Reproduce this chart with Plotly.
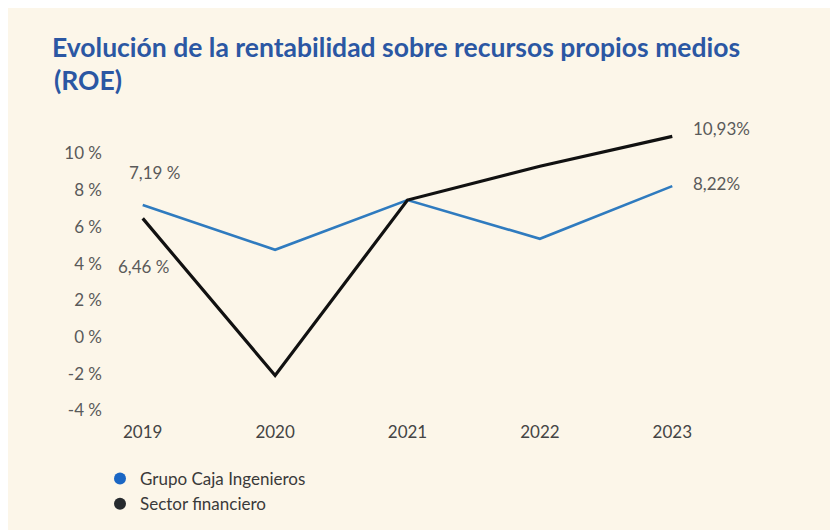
import plotly.graph_objects as go

years = ["2019", "2020", "2021", "2022", "2023"]
caja_ingenieros = [7.19, 4.75, 7.46, 5.35, 8.22]
sector_financiero = [6.46, -2.10, 7.46, 9.30, 10.93]
y_ticks = [-4, -2, 0, 2, 4, 6, 8, 10]
y_tick_labels = ["-4 %", "-2 %", "0 %", "2 %", "4 %", "6 %", "8 %", "10 %"]
series_names = ["Grupo Caja Ingenieros", "Sector financiero"]
title_line1 = "Evolución de la rentabilidad sobre recursos propios medios"
title_line2 = "(ROE)"

BLUE_LINE = "#2f7bbf"
BLACK_LINE = "#111111"
BLUE_DOT = "#1a66c4"
BLACK_DOT = "#262a2e"
TITLE_BLUE = "#2b57a3"
BG = "#fcf6e9"
FONT = "Lato, 'Open Sans', sans-serif"
GREY = "#5a5a5a"

W, H = 838, 530
ML, MR, MT, MB = 95, 134, 112, 123
PW, PH = W - ML - MR, H - MT - MB


def px_x(x):  # figure pixel -> paper x
    return (x - ML) / PW


def px_y(y):  # figure pixel -> paper y
    return (H - MB - y) / PH


fig = go.Figure()
fig.add_trace(go.Scatter(x=years, y=caja_ingenieros, mode="lines",
                         line=dict(color=BLUE_LINE, width=2.6), showlegend=False,
                         name=series_names[0]))
fig.add_trace(go.Scatter(x=years, y=sector_financiero, mode="lines",
                         line=dict(color=BLACK_LINE, width=3.2), showlegend=False,
                         name=series_names[1]))
# legend entries (circle symbols)
fig.add_trace(go.Scatter(x=[None], y=[None], mode="markers", name=series_names[0],
                         marker=dict(symbol="circle", size=12, color=BLUE_DOT)))
fig.add_trace(go.Scatter(x=[None], y=[None], mode="markers", name=series_names[1],
                         marker=dict(symbol="circle", size=12, color=BLACK_DOT)))

first, last = 0, len(years) - 1  # category indices on the x axis
ann_font = dict(family=FONT, size=17, color=GREY)
annotations = [
    dict(x=first, y=caja_ingenieros[first], xref="x", yref="y", text="7,19 %", showarrow=False,
         xanchor="center", yanchor="middle", xshift=12, yshift=32, font=ann_font),
    dict(x=first, y=sector_financiero[first], xref="x", yref="y", text="6,46 %", showarrow=False,
         xanchor="center", yanchor="middle", xshift=1, yshift=-48, font=ann_font),
    dict(x=last, y=sector_financiero[last], xref="x", yref="y", text="10,93%", showarrow=False,
         xanchor="left", yanchor="middle", xshift=19, yshift=8, font=ann_font),
    dict(x=last, y=caja_ingenieros[last], xref="x", yref="y", text="8,22%", showarrow=False,
         xanchor="left", yanchor="middle", xshift=19, yshift=3, font=ann_font),
    dict(x=px_x(44), y=px_y(54), xref="paper", yref="paper", text="<b>" + title_line2 + "</b>",
         showarrow=False, xanchor="left", yanchor="top",
         font=dict(family=FONT, size=26.5, color=TITLE_BLUE)),
]

fig.update_layout(
    width=W, height=H,
    paper_bgcolor=BG, plot_bgcolor=BG,
    margin=dict(l=ML, r=MR, t=MT, b=MB, autoexpand=False),
    title=dict(text="<b>" + title_line1 + "</b>",
               font=dict(family=FONT, size=26.5, color=TITLE_BLUE),
               x=44 / W, xanchor="left", xref="container",
               y=1 - 30 / H, yanchor="top", yref="container"),
    xaxis=dict(type="category", range=[-0.3, 4.3], showgrid=False, zeroline=False,
               showline=False, ticks="", ticklabelstandoff=5,
               tickfont=dict(family=FONT, size=17, color="#444444")),
    yaxis=dict(range=[-4.25, 11.82], tickvals=y_ticks, ticktext=y_tick_labels,
               showgrid=False, zeroline=False, showline=False, ticks="",
               tickfont=dict(family=FONT, size=17, color=GREY)),
    legend=dict(x=px_x(92), y=px_y(453),
                xanchor="left", yanchor="top", bgcolor="rgba(0,0,0,0)",
                font=dict(family=FONT, size=17, color="#3a3a3a"),
                itemwidth=30, tracegroupgap=0),
    annotations=annotations,
)

fig.write_html("out.html")
